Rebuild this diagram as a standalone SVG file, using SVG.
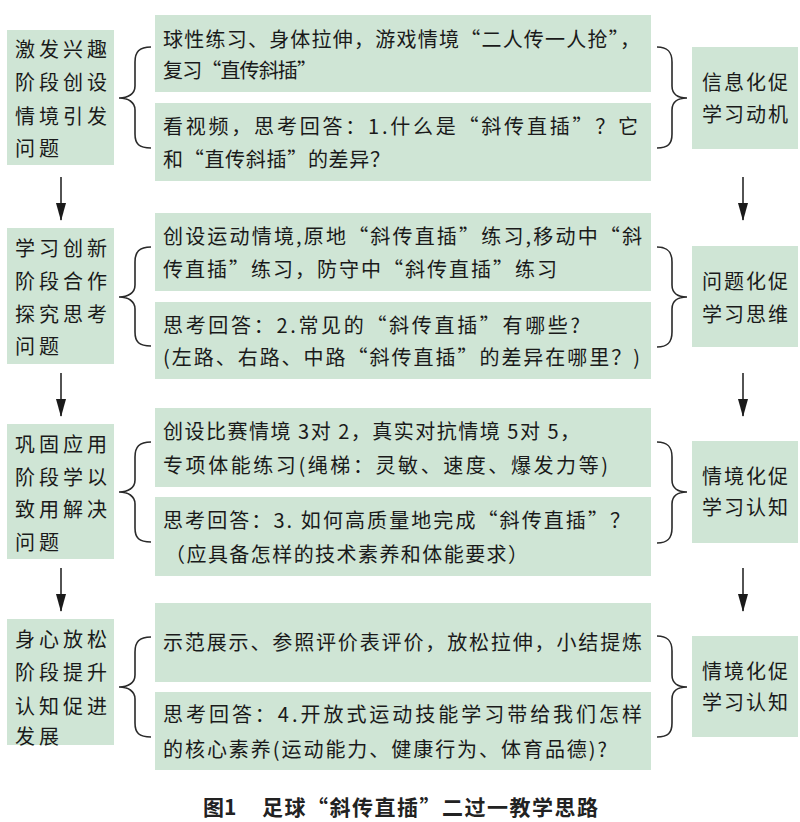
<svg xmlns="http://www.w3.org/2000/svg" width="800" height="822" viewBox="0 0 800 822">
<style>
.box{fill:#cfe5d5;}
.t{font-family:"Noto Sans CJK SC","Noto Sans CJK JP",sans-serif;font-size:20px;fill:#1a1a1a;}
.ls{letter-spacing:4px;}
.rs{letter-spacing:2px;}
.cap{font-family:"Noto Sans CJK SC",sans-serif;font-size:21px;font-weight:bold;fill:#222;}
.br{fill:none;stroke:#2a2a2a;stroke-width:1.6;}
.ar{stroke:#1a1a1a;stroke-width:1.5;fill:none;}
</style>
<defs>
<marker id="ah" markerWidth="18" markerHeight="10" refX="17" refY="5" orient="auto" markerUnits="userSpaceOnUse" viewBox="0 0 18 10">
<path d="M0,0 L18,5 L0,10 Z" fill="#1a1a1a"/>
</marker>
</defs>
<rect width="800" height="822" fill="#ffffff"/>

<g id="stage1">
<rect class="box" x="7" y="30" width="107" height="135"/>
<text class="t ls" x="15" y="57">激发兴趣</text>
<text class="t ls" x="15" y="90">阶段创设</text>
<text class="t ls" x="15" y="124">情境引发</text>
<text class="t ls" x="15" y="156">问题</text>
</g>
<g id="stage2">
<rect class="box" x="7" y="228" width="107" height="136"/>
<text class="t ls" x="15" y="256">学习创新</text>
<text class="t ls" x="15" y="289">阶段合作</text>
<text class="t ls" x="15" y="322">探究思考</text>
<text class="t ls" x="15" y="354">问题</text>
</g>
<g id="stage3">
<rect class="box" x="7" y="424" width="107" height="135"/>
<text class="t ls" x="15" y="452">巩固应用</text>
<text class="t ls" x="15" y="485">阶段学以</text>
<text class="t ls" x="15" y="517">致用解决</text>
<text class="t ls" x="15" y="550">问题</text>
</g>
<g id="stage4">
<rect class="box" x="7" y="619" width="107" height="126"/>
<text class="t ls" x="15" y="647">身心放松</text>
<text class="t ls" x="15" y="680">阶段提升</text>
<text class="t ls" x="15" y="714">认知促进</text>
<text class="t ls" x="15" y="744">发展</text>
</g>

<g id="act1a">
<rect class="box" x="155" y="15" width="496" height="77"/>
<text class="t" x="163" y="47" textLength="477">球性练习、身体拉伸，游戏情境“二人传一人抢”，</text>
<text class="t" x="163" y="78" textLength="154">复习“直传斜插”</text>
</g>
<g id="act1b">
<rect class="box" x="155" y="103" width="496" height="78"/>
<text class="t" x="163" y="134" textLength="475">看视频，思考回答：1.什么是“斜传直插”？它</text>
<text class="t" x="163" y="167" textLength="227">和“直传斜插”的差异？</text>
</g>
<g id="act2a">
<rect class="box" x="155" y="213" width="496" height="78"/>
<text class="t" x="163" y="244" textLength="479">创设运动情境,原地“斜传直插”练习,移动中“斜</text>
<text class="t" x="163" y="277" textLength="394">传直插”练习，防守中“斜传直插”练习</text>
</g>
<g id="act2b">
<rect class="box" x="155" y="302" width="496" height="77"/>
<text class="t" x="163" y="333" textLength="417">思考回答：2.常见的“斜传直插”有哪些?</text>
<text class="t" x="163" y="365" textLength="477">(左路、右路、中路“斜传直插”的差异在哪里？)</text>
</g>
<g id="act3a">
<rect class="box" x="155" y="408" width="496" height="79"/>
<text class="t" x="163" y="439" textLength="417">创设比赛情境 3对 2，真实对抗情境 5对 5，</text>
<text class="t" x="163" y="473" textLength="445">专项体能练习(绳梯：灵敏、速度、爆发力等)</text>
</g>
<g id="act3b">
<rect class="box" x="155" y="497" width="496" height="79"/>
<text class="t" x="163" y="528" textLength="467">思考回答：3. 如何高质量地完成“斜传直插”？</text>
<text class="t" x="165" y="562" textLength="363">（应具备怎样的技术素养和体能要求）</text>
</g>
<g id="act4a">
<rect class="box" x="155" y="603" width="496" height="79"/>
<text class="t" x="163" y="650" textLength="479">示范展示、参照评价表评价，放松拉伸，小结提炼</text>
</g>
<g id="act4b">
<rect class="box" x="155" y="692" width="496" height="78"/>
<text class="t" x="163" y="722" textLength="479">思考回答：4.开放式运动技能学习带给我们怎样</text>
<text class="t" x="163" y="757" textLength="444">的核心素养(运动能力、健康行为、体育品德)?</text>
</g>

<g id="goal1">
<rect class="box" x="692" y="47" width="106" height="102"/>
<text class="t rs" x="702" y="90">信息化促</text>
<text class="t rs" x="702" y="122">学习动机</text>
</g>
<g id="goal2">
<rect class="box" x="692" y="246" width="106" height="101"/>
<text class="t rs" x="702" y="289">问题化促</text>
<text class="t rs" x="702" y="322">学习思维</text>
</g>
<g id="goal3">
<rect class="box" x="692" y="441" width="106" height="102"/>
<text class="t rs" x="702" y="484">情境化促</text>
<text class="t rs" x="702" y="515">学习认知</text>
</g>
<g id="goal4">
<rect class="box" x="692" y="636" width="106" height="101"/>
<text class="t rs" x="702" y="679">情境化促</text>
<text class="t rs" x="702" y="710">学习认知</text>
</g>

<g id="connectors">
<path class="br" d="M151,47 C139,47 135,52 135,62 L135,86 C135,94 128,98 119,98 C128,98 135,102 135,110 L135,134 C135,144 139,148 151,148"/>
<path class="br" d="M151,247 C139,247 135,252 135,262 L135,285 C135,293 128,297 119,297 C128,297 135,301 135,309 L135,332 C135,342 139,346 151,346"/>
<path class="br" d="M151,442 C139,442 135,447 135,457 L135,480 C135,488 128,492 119,492 C128,492 135,496 135,504 L135,528 C135,538 139,542 151,542"/>
<path class="br" d="M151,637 C139,637 135,642 135,652 L135,675 C135,683 128,687 119,687 C128,687 135,691 135,699 L135,723 C135,733 139,737 151,737"/>

<path class="br" d="M657,47 C668,47 672,52 672,62 L672,86 C672,94 678,98 687,98 C678,98 672,102 672,110 L672,134 C672,144 668,148 657,148"/>
<path class="br" d="M657,247 C668,247 672,252 672,262 L672,285 C672,293 678,297 687,297 C678,297 672,301 672,309 L672,332 C672,342 668,347 657,347"/>
<path class="br" d="M657,442 C668,442 672,447 672,457 L672,480 C672,488 678,492 687,492 C678,492 672,496 672,504 L672,528 C672,538 668,543 657,543"/>
<path class="br" d="M657,636 C668,636 672,641 672,651 L672,675 C672,683 678,687 687,687 C678,687 672,691 672,699 L672,723 C672,733 668,737 657,737"/>

<line class="ar" x1="61" y1="177" x2="61" y2="220" marker-end="url(#ah)"/>
<line class="ar" x1="61" y1="373" x2="61" y2="416" marker-end="url(#ah)"/>
<line class="ar" x1="61" y1="568" x2="61" y2="611" marker-end="url(#ah)"/>
<line class="ar" x1="743" y1="177" x2="743" y2="220" marker-end="url(#ah)"/>
<line class="ar" x1="743" y1="373" x2="743" y2="416" marker-end="url(#ah)"/>
<line class="ar" x1="743" y1="568" x2="743" y2="611" marker-end="url(#ah)"/>
</g>

<g id="caption">
<text class="cap" x="203" y="815">图1</text>
<text class="cap" x="262" y="815" textLength="336">足球“斜传直插”二过一教学思路</text>
</g>
</svg>
